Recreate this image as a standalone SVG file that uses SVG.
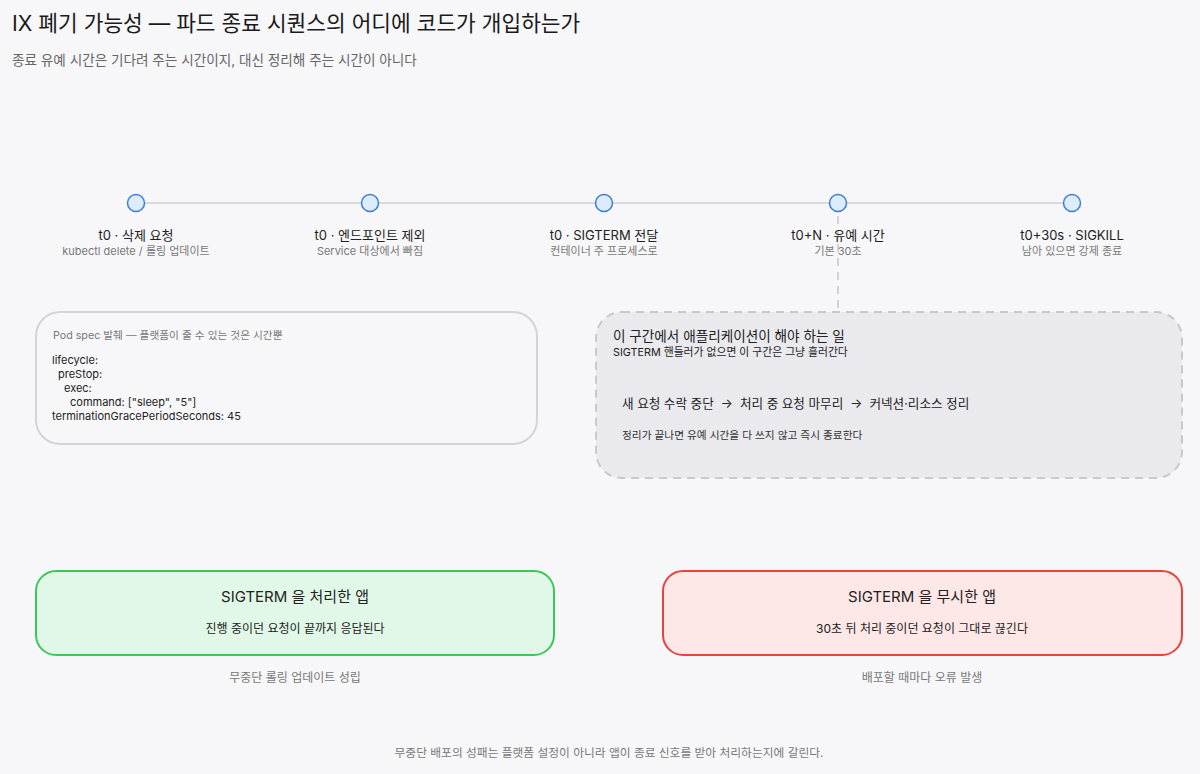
<svg xmlns="http://www.w3.org/2000/svg" width="1200" height="774" viewBox="0 0 1200 774">
<style>
text{font-family:"Inter","Noto Sans CJK KR","Noto Sans",sans-serif;}
.t{font-size:13px;fill:#222;text-anchor:middle}
.s{font-size:11px;fill:#777;text-anchor:middle}
.dot{fill:#dcecfc;stroke:#3b7fd4;stroke-width:1.5}
.code{font-size:11px;fill:#222}
.cap{font-size:12px;fill:#777;text-anchor:middle}
</style>
<rect x="0" y="0" width="1200" height="774" fill="#f7f7f9"/>
<text x="12" y="31" font-size="21.4" fill="#1a1a1a">IX 폐기 가능성 — 파드 종료 시퀀스의 어디에 코드가 개입하는가</text>
<text x="12" y="65" font-size="13.6" fill="#666">종료 유예 시간은 기다려 주는 시간이지, 대신 정리해 주는 시간이 아니다</text>
<g id="connectors">
<line x1="136" y1="203" x2="1072" y2="203" stroke="#d9d9de" stroke-width="2"/>
<line x1="838" y1="216" x2="838" y2="310" stroke="#c8c8cc" stroke-width="1.5" stroke-dasharray="8,6"/>
</g>
<g id="n1"><circle class="dot" cx="136" cy="203" r="8.5"/><text class="t" x="136" y="240">t0 · 삭제 요청</text><text class="s" x="136" y="255">kubectl delete / 롤링 업데이트</text></g>
<g id="n2"><circle class="dot" cx="370" cy="203" r="8.5"/><text class="t" x="370" y="240">t0 · 엔드포인트 제외</text><text class="s" x="370" y="255">Service 대상에서 빠짐</text></g>
<g id="n3"><circle class="dot" cx="604" cy="203" r="8.5"/><text class="t" x="604" y="240">t0 · SIGTERM 전달</text><text class="s" x="604" y="255">컨테이너 주 프로세스로</text></g>
<g id="n4"><circle class="dot" cx="838" cy="203" r="8.5"/><text class="t" x="838" y="240">t0+N · 유예 시간</text><text class="s" x="838" y="255">기본 30초</text></g>
<g id="n5"><circle class="dot" cx="1072" cy="203" r="8.5"/><text class="t" x="1072" y="240">t0+30s · SIGKILL</text><text class="s" x="1072" y="255">남아 있으면 강제 종료</text></g>
<g id="podspec">
<rect x="36" y="312" width="501" height="132" rx="24" fill="#f7f7f9" stroke="#d4d4d8" stroke-width="2"/>
<text x="53" y="339" font-size="10.7" fill="#777">Pod spec 발췌 — 플랫폼이 줄 수 있는 것은 시간뿐</text>
<text class="code" x="52" y="364">lifecycle:</text>
<text class="code" x="58" y="378">preStop:</text>
<text class="code" x="64" y="392">exec:</text>
<text class="code" x="70" y="406">command: ["sleep", "5"]</text>
<text class="code" x="52" y="420">terminationGracePeriodSeconds: 45</text>
</g>
<g id="appwork">
<rect x="596" y="312" width="586" height="166" rx="26" fill="#e9e9ee" stroke="#c8c8cd" stroke-width="2" stroke-dasharray="8,6"/>
<text x="613" y="341" font-size="13.6" fill="#222">이 구간에서 애플리케이션이 해야 하는 일</text>
<text x="613" y="356" font-size="10.8" fill="#222">SIGTERM 핸들러가 없으면 이 구간은 그냥 흘러간다</text>
<text x="622" y="408" font-size="12.6" fill="#222" xml:space="preserve">새 요청 수락 중단  →  처리 중 요청 마무리  →  커넥션·리소스 정리</text>
<text x="622" y="439" font-size="10.7" fill="#333">정리가 끝나면 유예 시간을 다 쓰지 않고 즉시 종료한다</text>
</g>
<g id="handled">
<rect x="36" y="571" width="518" height="84" rx="20" fill="#e1f8e8" stroke="#3dc75a" stroke-width="2"/>
<text x="295" y="602" font-size="15" fill="#222" text-anchor="middle">SIGTERM 을 처리한 앱</text>
<text x="295" y="633" font-size="12" fill="#222" text-anchor="middle">진행 중이던 요청이 끝까지 응답된다</text>
<text class="cap" x="295" y="682">무중단 롤링 업데이트 성립</text>
</g>
<g id="ignored">
<rect x="663" y="571" width="519" height="84" rx="20" fill="#fde7e7" stroke="#e5453d" stroke-width="2"/>
<text x="922" y="602" font-size="15" fill="#222" text-anchor="middle">SIGTERM 을 무시한 앱</text>
<text x="922" y="633" font-size="12" fill="#222" text-anchor="middle">30초 뒤 처리 중이던 요청이 그대로 끊긴다</text>
<text class="cap" x="922" y="682">배포할 때마다 오류 발생</text>
</g>
<text x="609" y="757" font-size="11.75" fill="#777" text-anchor="middle">무중단 배포의 성패는 플랫폼 설정이 아니라 앱이 종료 신호를 받아 처리하는지에 갈린다.</text>
</svg>
